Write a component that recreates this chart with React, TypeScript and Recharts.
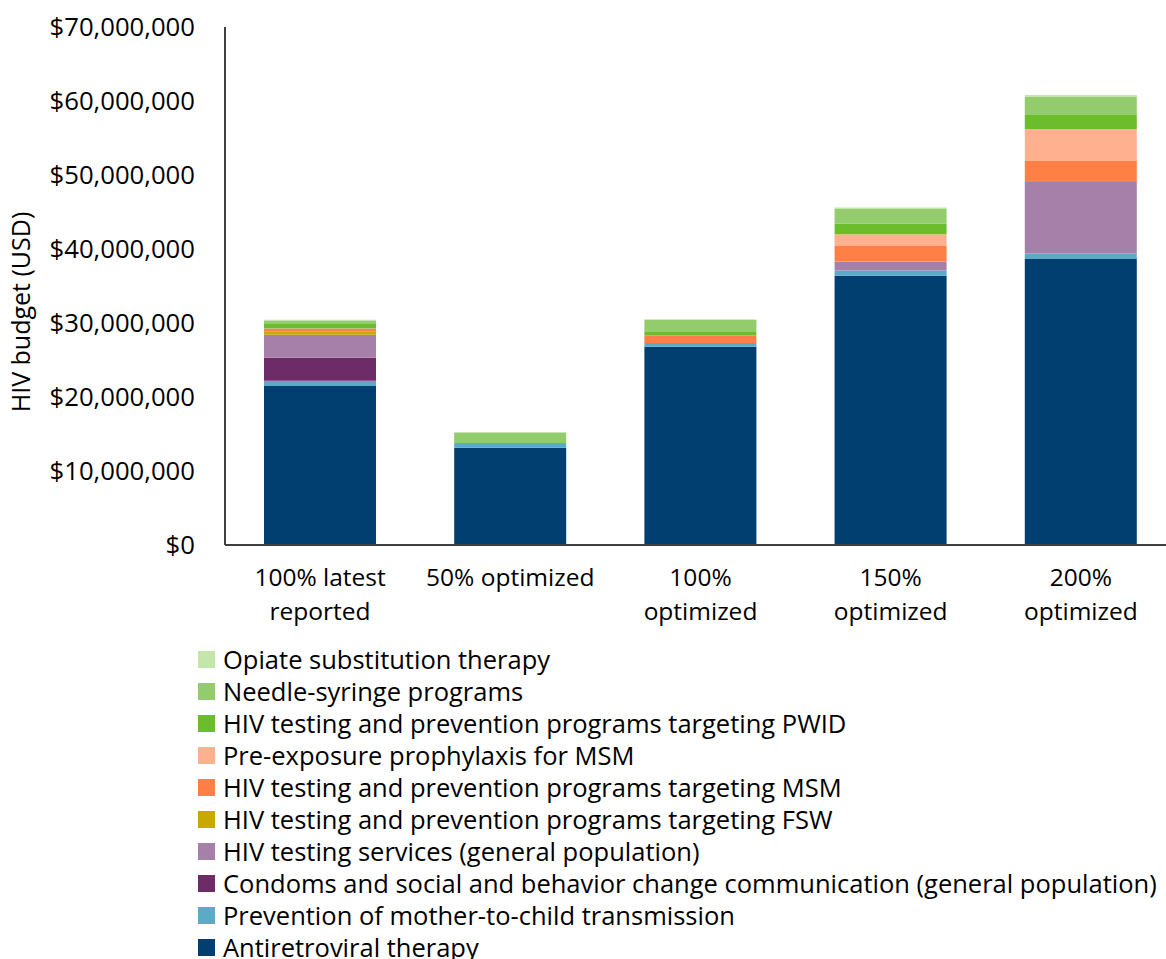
import React from 'react';
import { BarChart, Bar, XAxis, YAxis } from 'recharts';

const categories = ['100% latest reported', '50% optimized', '100% optimized', '150% optimized', '200% optimized'];
const categoryLines = [['100% latest', 'reported'], ['50% optimized'], ['100%', 'optimized'], ['150%', 'optimized'], ['200%', 'optimized']];

// values in USD millions, bottom of stack first
const art = [21.5, 13.15, 26.8, 36.4, 38.7];
const pmtct = [0.7, 0.65, 0.5, 0.7, 0.7];
const condoms = [3.1, 0, 0, 0, 0];
const hts = [3.1, 0, 0, 1.2, 9.65];
const fsw = [0.5, 0, 0, 0, 0];
const msm = [0.3, 0, 1.0, 2.1, 2.85];
const prep = [0.05, 0, 0, 1.6, 4.3];
const pwid = [0.6, 0, 0.5, 1.4, 1.9];
const nsp = [0.5, 1.4, 1.6, 2.0, 2.5];
const ost = [0.1, 0.05, 0.1, 0.2, 0.2];

const yTicks = [0, 10, 20, 30, 40, 50, 60, 70];

const series = [
  { key: 'art', name: 'Antiretroviral therapy', color: '#003f6f', values: art },
  { key: 'pmtct', name: 'Prevention of mother-to-child transmission', color: '#5aaac8', values: pmtct },
  { key: 'condoms', name: 'Condoms and social and behavior change communication (general population)', color: '#6d2b68', values: condoms },
  { key: 'hts', name: 'HIV testing services (general population)', color: '#a680a8', values: hts },
  { key: 'fsw', name: 'HIV testing and prevention programs targeting FSW', color: '#c9a800', values: fsw },
  { key: 'msm', name: 'HIV testing and prevention programs targeting MSM', color: '#ff7f45', values: msm },
  { key: 'prep', name: 'Pre-exposure prophylaxis for MSM', color: '#ffb08e', values: prep },
  { key: 'pwid', name: 'HIV testing and prevention programs targeting PWID', color: '#6bbd2b', values: pwid },
  { key: 'nsp', name: 'Needle-syringe programs', color: '#92cc6c', values: nsp },
  { key: 'ost', name: 'Opiate substitution therapy', color: '#c3e6a9', values: ost },
];

const data = categories.map((name, i) => {
  const row: Record<string, number | string> = { name };
  series.forEach((s) => { row[s.key] = s.values[i] * 1e6; });
  return row;
});

const FONT = '"Open Sans", Lato, sans-serif';

const fmtUsd = (v: number) => '$' + Math.round(v).toLocaleString('en-US');

const XTick = (props: any) => {
  const { x, y, index } = props;
  const lines = categoryLines[index] || [];
  return (
    <text x={x} y={y} textAnchor="middle" fontFamily={FONT} fontSize={24.5} fill="#000">
      {lines.map((l, i) => (
        <tspan key={i} x={x} dy={i === 0 ? 33 : 34}>{l}</tspan>
      ))}
    </text>
  );
};

const YLabel = () => (
  <text x={30} y={312} transform="rotate(-90, 30, 312)" textAnchor="middle" fontFamily={FONT} fontSize={25} fill="#000">
    HIV budget (USD)
  </text>
);

export default function App() {
  return (
    <div style={{ position: 'absolute', left: 0, top: 0, width: 1166, height: 959, overflow: 'hidden', background: '#fff' }}>
      <BarChart
        width={1176}
        height={640}
        data={data}
        margin={{ top: 27, right: 0, left: 0, bottom: 0 }}
        barCategoryGap="20.5%"
      >
        <XAxis
          dataKey="name"
          height={95}
          tickLine={false}
          axisLine={{ stroke: '#404040', strokeWidth: 2 }}
          tick={<XTick />}
          interval={0}
        />
        <YAxis
          width={225}
          domain={[0, 70000000]}
          ticks={yTicks.map((t) => t * 1e6)}
          tickFormatter={fmtUsd}
          tickLine={false}
          tickSize={0}
          tickMargin={30}
          axisLine={{ stroke: '#404040', strokeWidth: 2 }}
          tick={{ fontFamily: FONT, fontSize: 25.7, fill: '#000' }}
          label={<YLabel />}
        />
        {series.map((s) => (
          <Bar key={s.key} dataKey={s.key} name={s.name} stackId="a" fill={s.color} isAnimationActive={false} />
        ))}
      </BarChart>
      <div style={{ position: 'absolute', left: 198, top: 643, fontFamily: FONT, fontSize: 25.5, color: '#000' }}>
        {[...series].reverse().map((s) => (
          <div key={s.key} style={{ display: 'flex', alignItems: 'center', height: 32, whiteSpace: 'nowrap' }}>
            <span style={{ display: 'inline-block', width: 17, height: 17, background: s.color, marginRight: 8 }} />
            <span>{s.name}</span>
          </div>
        ))}
      </div>
    </div>
  );
}
